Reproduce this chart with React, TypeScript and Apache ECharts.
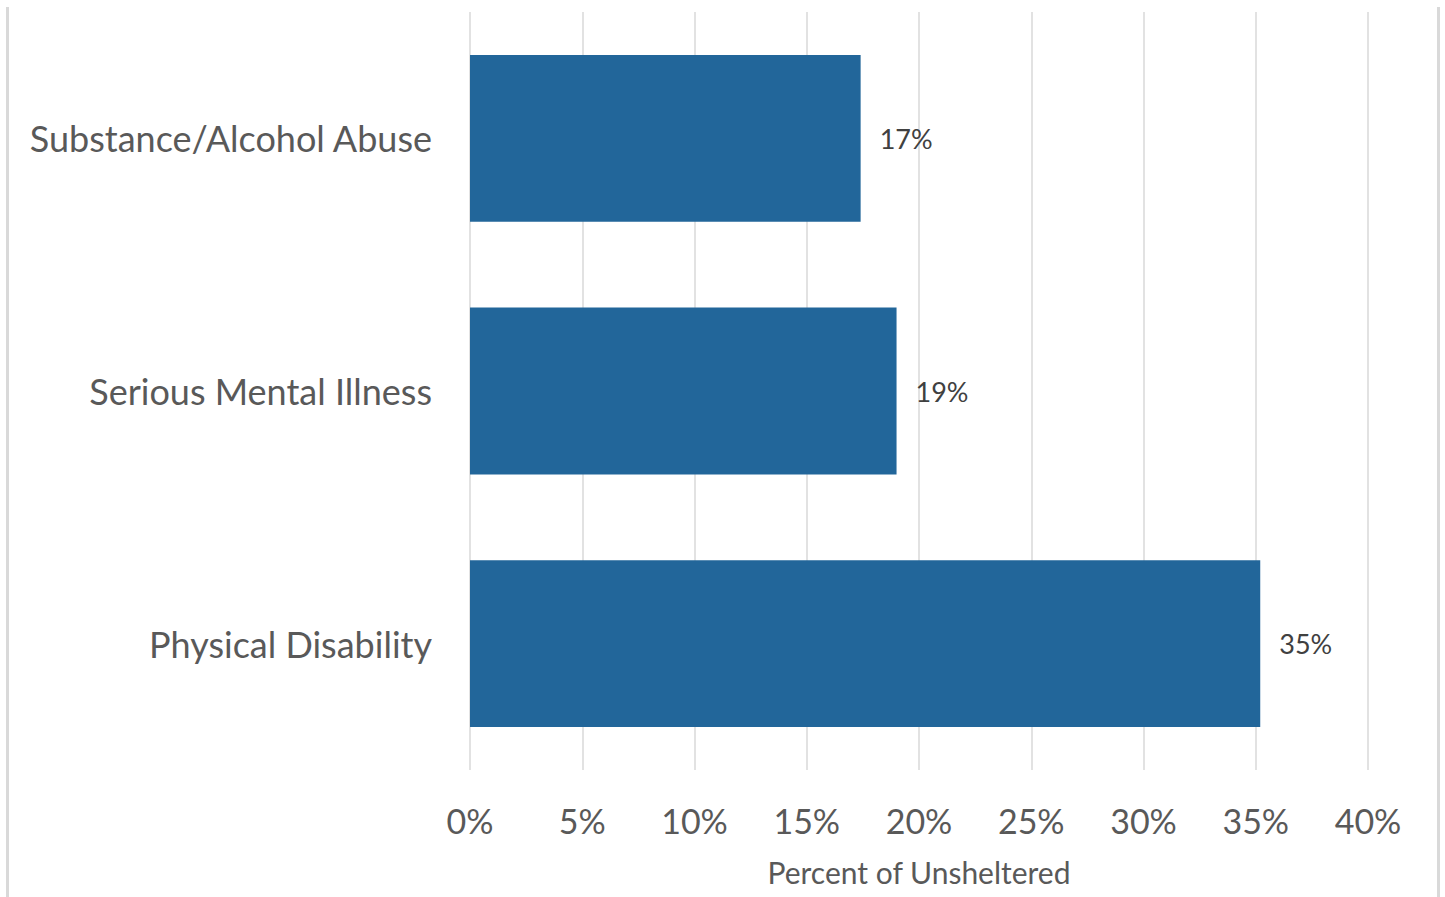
import React, { useEffect, useRef } from "react";
import * as echarts from "echarts";

const categories = ["Substance/Alcohol Abuse", "Serious Mental Illness", "Physical Disability"];
const values = [17.4, 19.0, 35.2];
const axisName = "Percent of Unsheltered";
const FONT = "Lato, 'Open Sans', sans-serif";

export default function App() {
  const ref = useRef<HTMLDivElement>(null);
  useEffect(() => {
    document.body.style.margin = "0";
    const chart = echarts.init(ref.current!, null, { renderer: "svg" });
    chart.setOption({
      animation: false,
      backgroundColor: "#ffffff",
      textStyle: { fontFamily: FONT },
      graphic: [
        { type: "rect", shape: { x: 6, y: 7, width: 3, height: 890 }, style: { fill: "#d9d9d9" } },
        { type: "rect", shape: { x: 1437, y: 7, width: 3, height: 890 }, style: { fill: "#d9d9d9" } },
      ],
      grid: { left: 470, right: 77, top: 12, bottom: 127, containLabel: false },
      xAxis: {
        type: "value",
        min: 0,
        max: 40,
        interval: 5,
        name: axisName,
        nameLocation: "middle",
        nameGap: 87,
        nameTextStyle: { fontSize: 30, color: "#595959", fontFamily: FONT },
        axisLine: { show: false },
        axisTick: { show: false },
        axisLabel: { formatter: "{value}%", fontSize: 34, color: "#595959", margin: 33, fontFamily: FONT },
        splitLine: { show: true, lineStyle: { color: "#d9d9d9", width: 1.5 } },
      },
      yAxis: {
        type: "category",
        data: categories,
        inverse: true,
        axisLine: { show: false },
        axisTick: { show: false },
        axisLabel: { fontSize: 36, color: "#595959", margin: 38, fontFamily: FONT },
      },
      series: [
        {
          type: "bar",
          data: values,
          barCategoryGap: "34%",
          itemStyle: { color: "#22669a" },
          label: {
            show: true,
            position: "right",
            distance: 19,
            fontSize: 27,
            color: "#404040",
            fontFamily: FONT,
            formatter: (p: any) => Math.round(p.value) + "%",
          },
        },
      ],
    });
    return () => chart.dispose();
  }, []);
  return <div ref={ref} style={{ position: "absolute", left: 0, top: 0, width: 1445, height: 897 }} />;
}
